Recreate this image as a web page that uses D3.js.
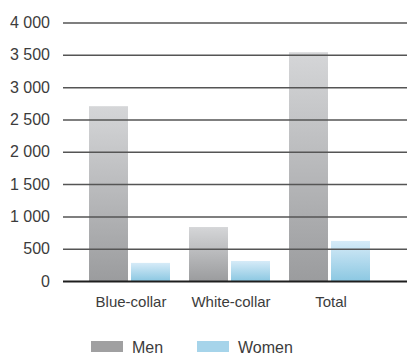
<!DOCTYPE html>
<html>
<head>
<meta charset="utf-8">
<script src="https://cdn.jsdelivr.net/npm/d3@7"></script>
<style>
  html, body { margin: 0; padding: 0; background: #fff; }
  svg { display: block; }
  text { font-family: "Liberation Sans", Arial, Helvetica, sans-serif; fill: #3c3c3c; }
</style>
</head>
<body>
<svg id="chart" width="407" height="354"></svg>
<script>
// Employees by occupation group and sex
const categories = ["Blue-collar", "White-collar", "Total"];
const seriesNames = ["Men", "Women"];
const men = [2705, 835, 3540];
const women = [280, 310, 620];
const yTicks = [0, 500, 1000, 1500, 2000, 2500, 3000, 3500, 4000];

const svg = d3.select("#chart");
const W = 407;

const rows = categories.map((c, i) => ({ category: c, Men: men[i], Women: women[i] }));

const y = d3.scaleLinear().domain([0, 4000]).range([281, 22.5]);

const x0 = d3.scaleBand()
  .domain(categories)
  .range([79.5, 379.5])
  .paddingInner(0.19)
  .paddingOuter(0.095);

const x1 = d3.scaleBand()
  .domain(seriesNames)
  .range([0, x0.bandwidth()])
  .paddingInner(3 / 42);

// Vertical gradients, one per series, laid over each bar's own box
const defs = svg.append("defs");
const gradStops = {
  Men: ["#d5d6d8", "#9b9c9e"],
  Women: ["#d6ebf8", "#8cc8e2"]
};
seriesNames.forEach(s => {
  const g = defs.append("linearGradient")
    .attr("id", "grad-" + s)
    .attr("x1", 0).attr("y1", 0).attr("x2", 0).attr("y2", 1);
  g.append("stop").attr("offset", "0%").attr("stop-color", gradStops[s][0]);
  g.append("stop").attr("offset", "100%").attr("stop-color", gradStops[s][1]);
});

// Bars
const groups = svg.append("g").selectAll("g")
  .data(rows)
  .join("g")
  .attr("transform", d => `translate(${x0(d.category)},0)`);

groups.selectAll("rect")
  .data(d => seriesNames.map(s => ({ series: s, value: d[s] })))
  .join("rect")
  .attr("x", d => x1(d.series))
  .attr("y", d => y(d.value))
  .attr("width", x1.bandwidth())
  .attr("height", d => y(0) - y(d.value))
  .attr("fill", d => `url(#grad-${d.series})`);

// Y axis: gridlines drawn over the bars, labels on the left
const yAxis = d3.axisLeft(y)
  .tickValues(yTicks)
  .tickSize(0)
  .tickPadding(13)
  .tickFormat(d => d3.format(",")(d).replace(/,/g, " "));

const gy = svg.append("g")
  .attr("transform", "translate(63,0)")
  .call(yAxis);
gy.select(".domain").remove();
gy.selectAll(".tick text")
  .attr("font-size", 16)
  .attr("fill", "#3c3c3c")
  .style("font-family", "'Liberation Sans', Arial, sans-serif");

gy.selectAll(".tick")
  .append("line")
  .attr("x1", 0)
  .attr("x2", W - 63)
  .attr("stroke", d => d === 0 ? "#1e1e1e" : "#555")
  .attr("stroke-width", d => d === 0 ? 2 : 1.5);

// Category labels
const xAxis = d3.axisBottom(x0).tickSize(0).tickPadding(0);
const gx = svg.append("g")
  .attr("transform", "translate(1.5,296)")
  .call(xAxis);
gx.select(".domain").remove();
gx.selectAll(".tick text")
  .attr("font-size", 15)
  .attr("fill", "#3c3c3c")
  .attr("dy", "0.7em");

// Legend
const legendX = [91, 197];
const legend = svg.append("g").selectAll("g")
  .data(seriesNames)
  .join("g")
  .attr("transform", (d, i) => `translate(${legendX[i]},341)`);
legend.append("rect")
  .attr("width", 32)
  .attr("height", 11)
  .attr("fill", d => d === "Men" ? "#a0a0a1" : "#a6d4ea");
legend.append("text")
  .attr("x", 41)
  .attr("y", 11.5)
  .attr("font-size", 16)
  .text(d => d);
</script>
</body>
</html>
